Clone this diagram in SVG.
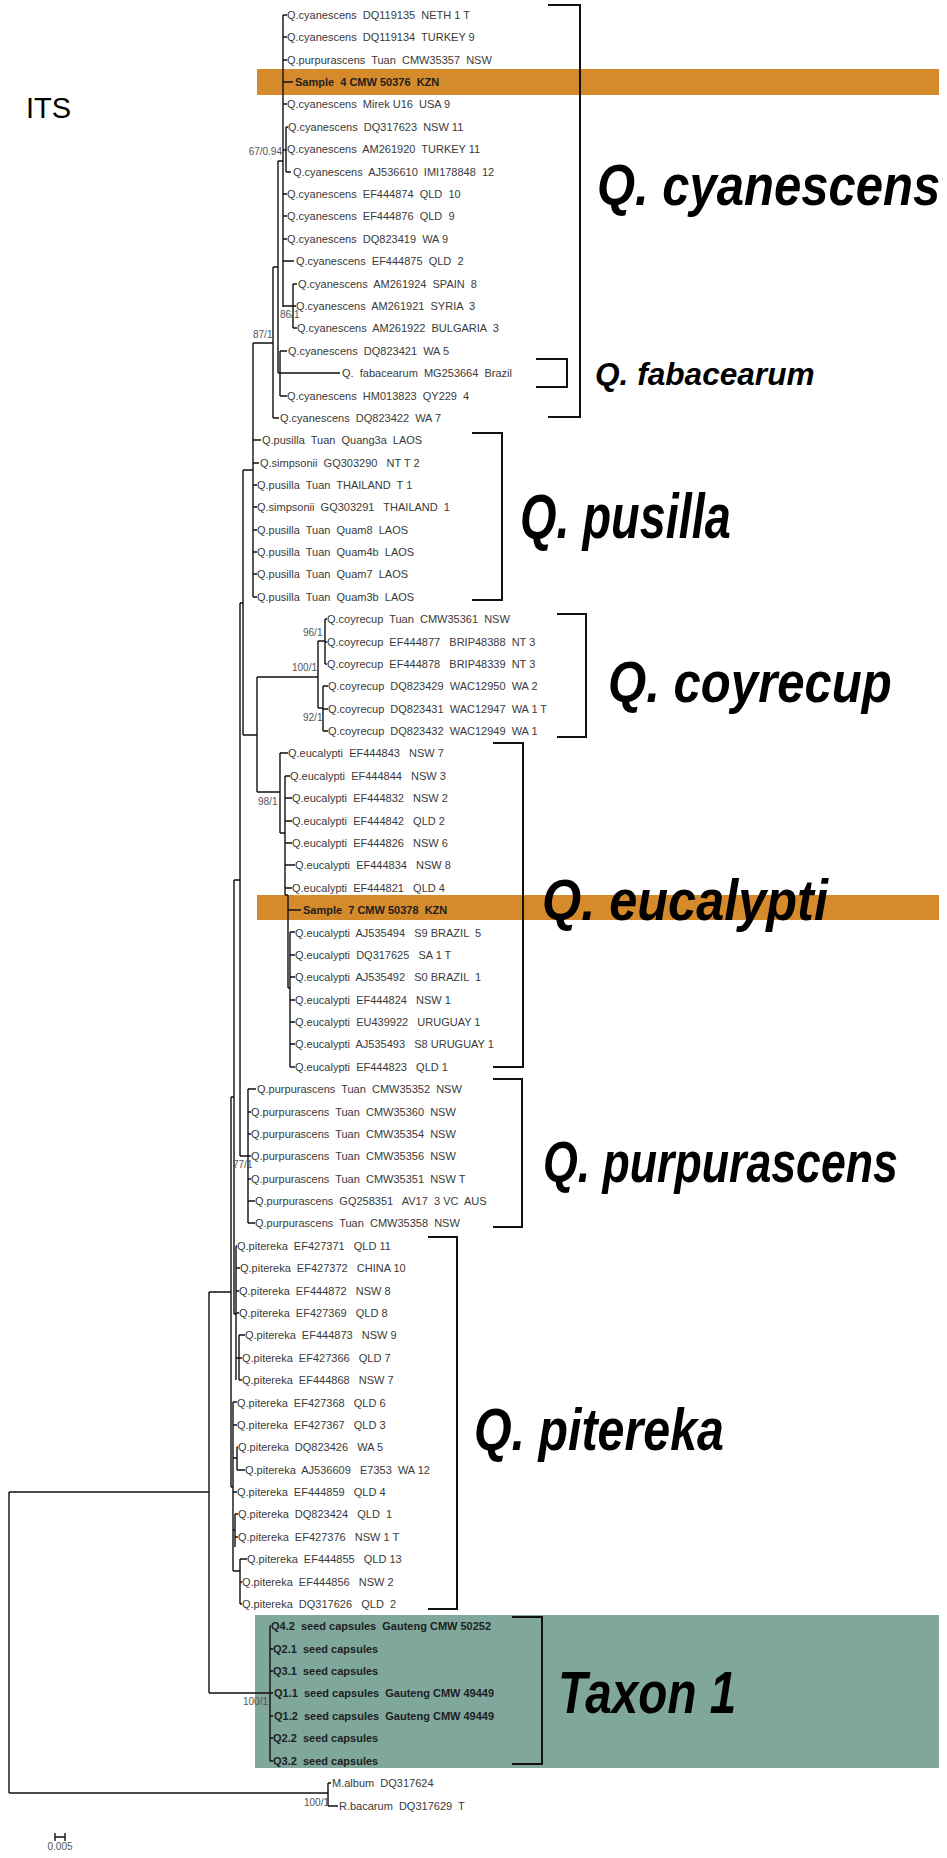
<svg xmlns="http://www.w3.org/2000/svg" width="947" height="1858" viewBox="0 0 947 1858">
<style>
.t{font-family:"Liberation Sans",Arial,sans-serif;font-size:11px;fill:#3a3a3a;white-space:pre}
.b{font-family:"Liberation Sans",Arial,sans-serif;font-size:11px;font-weight:bold;fill:#1e1e1e;white-space:pre}
.n{font-family:"Liberation Sans",Arial,sans-serif;font-size:10px;fill:#555}
.big{font-family:"Liberation Sans",Arial,sans-serif;font-weight:bold;font-style:italic;fill:#000}
.br{fill:none;stroke:#111;stroke-width:1.4}
.bk{fill:none;stroke:#111;stroke-width:2}
</style>
<rect width="947" height="1858" fill="#fff"/>
<g id="highlights">
<rect x="257" y="69" width="682" height="26" fill="#D58A2B"/>
<rect x="257" y="895" width="682" height="25" fill="#D58A2B"/>
<rect x="255" y="1615" width="684" height="153" fill="#80A79C"/>
</g>
<text x="26" y="118" font-family="Liberation Sans, Arial, sans-serif" font-size="29" fill="#000">ITS</text>
<g id="connectors">
<path class="br" d="M283,15V307 M283,15H287 M283,37H287 M283,60H287 M283,82H293 M283,104H287 M283,194H287 M283,216H287 M283,239H287
M283,150H286 M286,127V172 M286,127H288 M286,172H291
M283,261H294 M283,306H293 M293,284V328 M293,284H297 M293,306H296 M293,328H297
M278,161H283 M278,161V373 M280,351V396 M280,351H287 M280,396H287 M278,373H340
M273,267H278 M273,267V418 M273,418H279
M253,343H273 M253,343V597 M253,440H261 M253,463H259 M253,485H257 M253,507H257 M253,530H257 M253,552H257 M253,574H257 M253,597H257
M243,470H253 M243,470V735
M243,735H257 M257,677V792
M257,677H318 M318,641V708 M318,641H325 M325,619V664 M325,619H327 M325,642H327 M325,664H327 M318,708H323 M323,686V731 M323,686H328 M323,709H328 M323,731H328
M257,792H280 M280,753V833 M280,753H288 M280,833H285 M285,776V895 M285,776H290 M285,798H292 M285,821H292 M285,843H292 M285,865H295 M285,888H292
M285,895H288 M288,895V988 M288,910H301 M288,988H290 M290,932V1067 M290,932H295 M290,955H295 M290,977H295 M290,1000H295 M290,1022H295 M290,1044H295 M290,1067H295
M234,880H240 M240,603V1156 M240,603H243
M240,1156H248 M248,1089V1223 M248,1089H256 M248,1112H251 M248,1134H251 M248,1156H251 M248,1179H251 M248,1201H255 M248,1223H255
M231,1097H234 M234,880V1314
M231,1097V1487
M234,1314H236 M236,1246V1380 M236,1246H237 M236,1268H240 M236,1291H239 M236,1313H239 M236,1358H239 M239,1335V1380 M239,1335H245 M239,1358H242 M239,1380H242
M231,1487H233 M233,1402V1571 M233,1402H237 M233,1425H237 M233,1458H237 M237,1447V1470 M237,1447H238 M237,1470H245 M233,1492H237 M233,1530H235 M235,1514V1547 M235,1514H238 M235,1537H238 M233,1571H240 M240,1559V1604 M240,1559H247 M240,1582H242 M240,1604H242
M209,1292H231 M209,1292V1693 M209,1693H270 M270,1626V1761 M270,1626H271 M270,1649H273 M270,1671H273 M270,1693H273 M270,1716H273 M270,1738H273 M270,1761H273
M9,1492H209 M9,1492V1793 M9,1793H328 M328,1783V1806 M328,1783H331 M328,1806H338"/>
<path class="br" d="M55,1833V1841 M55,1837H65 M65,1833V1841"/>
</g>
<g id="support-values" class="n">
<text x="282" y="155" text-anchor="end">67/0.94</text>
<text x="280" y="318">86/1</text>
<text x="253" y="338">87/1</text>
<text x="303" y="636">96/1</text>
<text x="292" y="671">100/1</text>
<text x="303" y="721">92/1</text>
<text x="258" y="805">98/1</text>
<text x="233" y="1168">77/1</text>
<text x="243" y="1705">100/1</text>
<text x="304" y="1806">100/1</text>
</g>
<text class="n" x="60" y="1850" text-anchor="middle" font-size="9">0.005</text>
<g id="brackets">
<path class="bk" d="M548,5H580V417H548"/>
<path class="bk" d="M536,359H567V387H536"/>
<path class="bk" d="M472,433H502V600H472"/>
<path class="bk" d="M557,614H586V737H557"/>
<path class="bk" d="M493,743H523V1067H493"/>
<path class="bk" d="M493,1079H522V1227H493"/>
<path class="bk" d="M428,1237H457V1609H428"/>
<path class="bk" d="M512,1617H542V1764H512"/>
</g>
<g id="clade-labels" class="big">
<text id="lab-cyanescens" font-size="58" transform="translate(597,205) scale(0.845,1)">Q. cyanescens</text>
<text id="lab-fabacearum" font-size="31" transform="translate(595,385) scale(1.02,1)">Q. fabacearum</text>
<text id="lab-pusilla" font-size="63" transform="translate(520,538) scale(0.744,1)">Q. pusilla</text>
<text id="lab-coyrecup" font-size="58" transform="translate(608,702) scale(0.847,1)">Q. coyrecup</text>
<text id="lab-eucalypti" font-size="57" transform="translate(542,920) scale(0.885,1)">Q. eucalypti</text>
<text id="lab-purpurascens" font-size="58" transform="translate(543,1182) scale(0.77,1)">Q. purpurascens</text>
<text id="lab-pitereka" font-size="60" transform="translate(474,1450) scale(0.806,1)">Q. pitereka</text>
<text id="lab-taxon1" font-size="60" transform="translate(558,1713) scale(0.794,1)">Taxon 1</text>
</g>
<g id="clade-cyanescens">
<text id="l1" class="t" x="287" y="19">Q.cyanescens  DQ119135  NETH 1 T</text>
<text id="l2" class="t" x="287" y="41">Q.cyanescens  DQ119134  TURKEY 9</text>
<text id="l3" class="t" x="287" y="64">Q.purpurascens  Tuan  CMW35357  NSW</text>
<text id="l4" class="b" x="295" y="86">Sample  4 CMW 50376  KZN</text>
<text id="l5" class="t" x="287" y="108">Q.cyanescens  Mirek U16  USA 9</text>
<text id="l6" class="t" x="288" y="131">Q.cyanescens  DQ317623  NSW 11</text>
<text id="l7" class="t" x="287" y="153">Q.cyanescens  AM261920  TURKEY 11</text>
<text id="l8" class="t" x="293" y="176">Q.cyanescens  AJ536610  IMI178848  12</text>
<text id="l9" class="t" x="287" y="198">Q.cyanescens  EF444874  QLD  10</text>
<text id="l10" class="t" x="287" y="220">Q.cyanescens  EF444876  QLD  9</text>
<text id="l11" class="t" x="287" y="243">Q.cyanescens  DQ823419  WA 9</text>
<text id="l12" class="t" x="296" y="265">Q.cyanescens  EF444875  QLD  2</text>
<text id="l13" class="t" x="298" y="288">Q.cyanescens  AM261924  SPAIN  8</text>
<text id="l14" class="t" x="296" y="310">Q.cyanescens  AM261921  SYRIA  3</text>
<text id="l15" class="t" x="297" y="332">Q.cyanescens  AM261922  BULGARIA  3</text>
<text id="l16" class="t" x="288" y="355">Q.cyanescens  DQ823421  WA 5</text>
<text id="l17" class="t" x="342" y="377">Q.  fabacearum  MG253664  Brazil</text>
<text id="l18" class="t" x="287" y="400">Q.cyanescens  HM013823  QY229  4</text>
<text id="l19" class="t" x="280" y="422">Q.cyanescens  DQ823422  WA 7</text>
</g>
<g id="clade-pusilla">
<text id="l20" class="t" x="262" y="444">Q.pusilla  Tuan  Quang3a  LAOS</text>
<text id="l21" class="t" x="260" y="467">Q.simpsonii  GQ303290   NT T 2</text>
<text id="l22" class="t" x="257" y="489">Q.pusilla  Tuan  THAILAND  T 1</text>
<text id="l23" class="t" x="257" y="511">Q.simpsonii  GQ303291   THAILAND  1</text>
<text id="l24" class="t" x="257" y="534">Q.pusilla  Tuan  Quam8  LAOS</text>
<text id="l25" class="t" x="257" y="556">Q.pusilla  Tuan  Quam4b  LAOS</text>
<text id="l26" class="t" x="257" y="578">Q.pusilla  Tuan  Quam7  LAOS</text>
<text id="l27" class="t" x="257" y="601">Q.pusilla  Tuan  Quam3b  LAOS</text>
</g>
<g id="clade-coyrecup">
<text id="l28" class="t" x="327" y="623">Q.coyrecup  Tuan  CMW35361  NSW</text>
<text id="l29" class="t" x="327" y="646">Q.coyrecup  EF444877   BRIP48388  NT 3</text>
<text id="l30" class="t" x="327" y="668">Q.coyrecup  EF444878   BRIP48339  NT 3</text>
<text id="l31" class="t" x="328" y="690">Q.coyrecup  DQ823429  WAC12950  WA 2</text>
<text id="l32" class="t" x="328" y="713">Q.coyrecup  DQ823431  WAC12947  WA 1 T</text>
<text id="l33" class="t" x="328" y="735">Q.coyrecup  DQ823432  WAC12949  WA 1</text>
</g>
<g id="clade-eucalypti">
<text id="l34" class="t" x="288" y="757">Q.eucalypti  EF444843   NSW 7</text>
<text id="l35" class="t" x="290" y="780">Q.eucalypti  EF444844   NSW 3</text>
<text id="l36" class="t" x="292" y="802">Q.eucalypti  EF444832   NSW 2</text>
<text id="l37" class="t" x="292" y="825">Q.eucalypti  EF444842   QLD 2</text>
<text id="l38" class="t" x="292" y="847">Q.eucalypti  EF444826   NSW 6</text>
<text id="l39" class="t" x="295" y="869">Q.eucalypti  EF444834   NSW 8</text>
<text id="l40" class="t" x="292" y="892">Q.eucalypti  EF444821   QLD 4</text>
<text id="l41" class="b" x="303" y="914">Sample  7 CMW 50378  KZN</text>
<text id="l42" class="t" x="295" y="937">Q.eucalypti  AJ535494   S9 BRAZIL  5</text>
<text id="l43" class="t" x="295" y="959">Q.eucalypti  DQ317625   SA 1 T</text>
<text id="l44" class="t" x="295" y="981">Q.eucalypti  AJ535492   S0 BRAZIL  1</text>
<text id="l45" class="t" x="295" y="1004">Q.eucalypti  EF444824   NSW 1</text>
<text id="l46" class="t" x="295" y="1026">Q.eucalypti  EU439922   URUGUAY 1</text>
<text id="l47" class="t" x="295" y="1048">Q.eucalypti  AJ535493   S8 URUGUAY 1</text>
<text id="l48" class="t" x="295" y="1071">Q.eucalypti  EF444823   QLD 1</text>
</g>
<g id="clade-purpurascens">
<text id="l49" class="t" x="257" y="1093">Q.purpurascens  Tuan  CMW35352  NSW</text>
<text id="l50" class="t" x="251" y="1116">Q.purpurascens  Tuan  CMW35360  NSW</text>
<text id="l51" class="t" x="251" y="1138">Q.purpurascens  Tuan  CMW35354  NSW</text>
<text id="l52" class="t" x="251" y="1160">Q.purpurascens  Tuan  CMW35356  NSW</text>
<text id="l53" class="t" x="251" y="1183">Q.purpurascens  Tuan  CMW35351  NSW T</text>
<text id="l54" class="t" x="255" y="1205">Q.purpurascens  GQ258351   AV17  3 VC  AUS</text>
<text id="l55" class="t" x="255" y="1227">Q.purpurascens  Tuan  CMW35358  NSW</text>
</g>
<g id="clade-pitereka">
<text id="l56" class="t" x="237" y="1250">Q.pitereka  EF427371   QLD 11</text>
<text id="l57" class="t" x="240" y="1272">Q.pitereka  EF427372   CHINA 10</text>
<text id="l58" class="t" x="239" y="1295">Q.pitereka  EF444872   NSW 8</text>
<text id="l59" class="t" x="239" y="1317">Q.pitereka  EF427369   QLD 8</text>
<text id="l60" class="t" x="245" y="1339">Q.pitereka  EF444873   NSW 9</text>
<text id="l61" class="t" x="242" y="1362">Q.pitereka  EF427366   QLD 7</text>
<text id="l62" class="t" x="242" y="1384">Q.pitereka  EF444868   NSW 7</text>
<text id="l63" class="t" x="237" y="1407">Q.pitereka  EF427368   QLD 6</text>
<text id="l64" class="t" x="237" y="1429">Q.pitereka  EF427367   QLD 3</text>
<text id="l65" class="t" x="238" y="1451">Q.pitereka  DQ823426   WA 5</text>
<text id="l66" class="t" x="245" y="1474">Q.pitereka  AJ536609   E7353  WA 12</text>
<text id="l67" class="t" x="237" y="1496">Q.pitereka  EF444859   QLD 4</text>
<text id="l68" class="t" x="238" y="1518">Q.pitereka  DQ823424   QLD  1</text>
<text id="l69" class="t" x="238" y="1541">Q.pitereka  EF427376   NSW 1 T</text>
<text id="l70" class="t" x="247" y="1563">Q.pitereka  EF444855   QLD 13</text>
<text id="l71" class="t" x="242" y="1586">Q.pitereka  EF444856   NSW 2</text>
<text id="l72" class="t" x="242" y="1608">Q.pitereka  DQ317626   QLD  2</text>
</g>
<g id="clade-taxon1">
<text id="l73" class="b" x="271" y="1630">Q4.2  seed capsules  Gauteng CMW 50252</text>
<text id="l74" class="b" x="273" y="1653">Q2.1  seed capsules</text>
<text id="l75" class="b" x="273" y="1675">Q3.1  seed capsules</text>
<text id="l76" class="b" x="274" y="1697">Q1.1  seed capsules  Gauteng CMW 49449</text>
<text id="l77" class="b" x="274" y="1720">Q1.2  seed capsules  Gauteng CMW 49449</text>
<text id="l78" class="b" x="273" y="1742">Q2.2  seed capsules</text>
<text id="l79" class="b" x="273" y="1765">Q3.2  seed capsules</text>
</g>
<g id="outgroup">
<text id="l80" class="t" x="332" y="1787">M.album  DQ317624</text>
<text id="l81" class="t" x="339" y="1810">R.bacarum  DQ317629  T</text>
</g>
</svg>
